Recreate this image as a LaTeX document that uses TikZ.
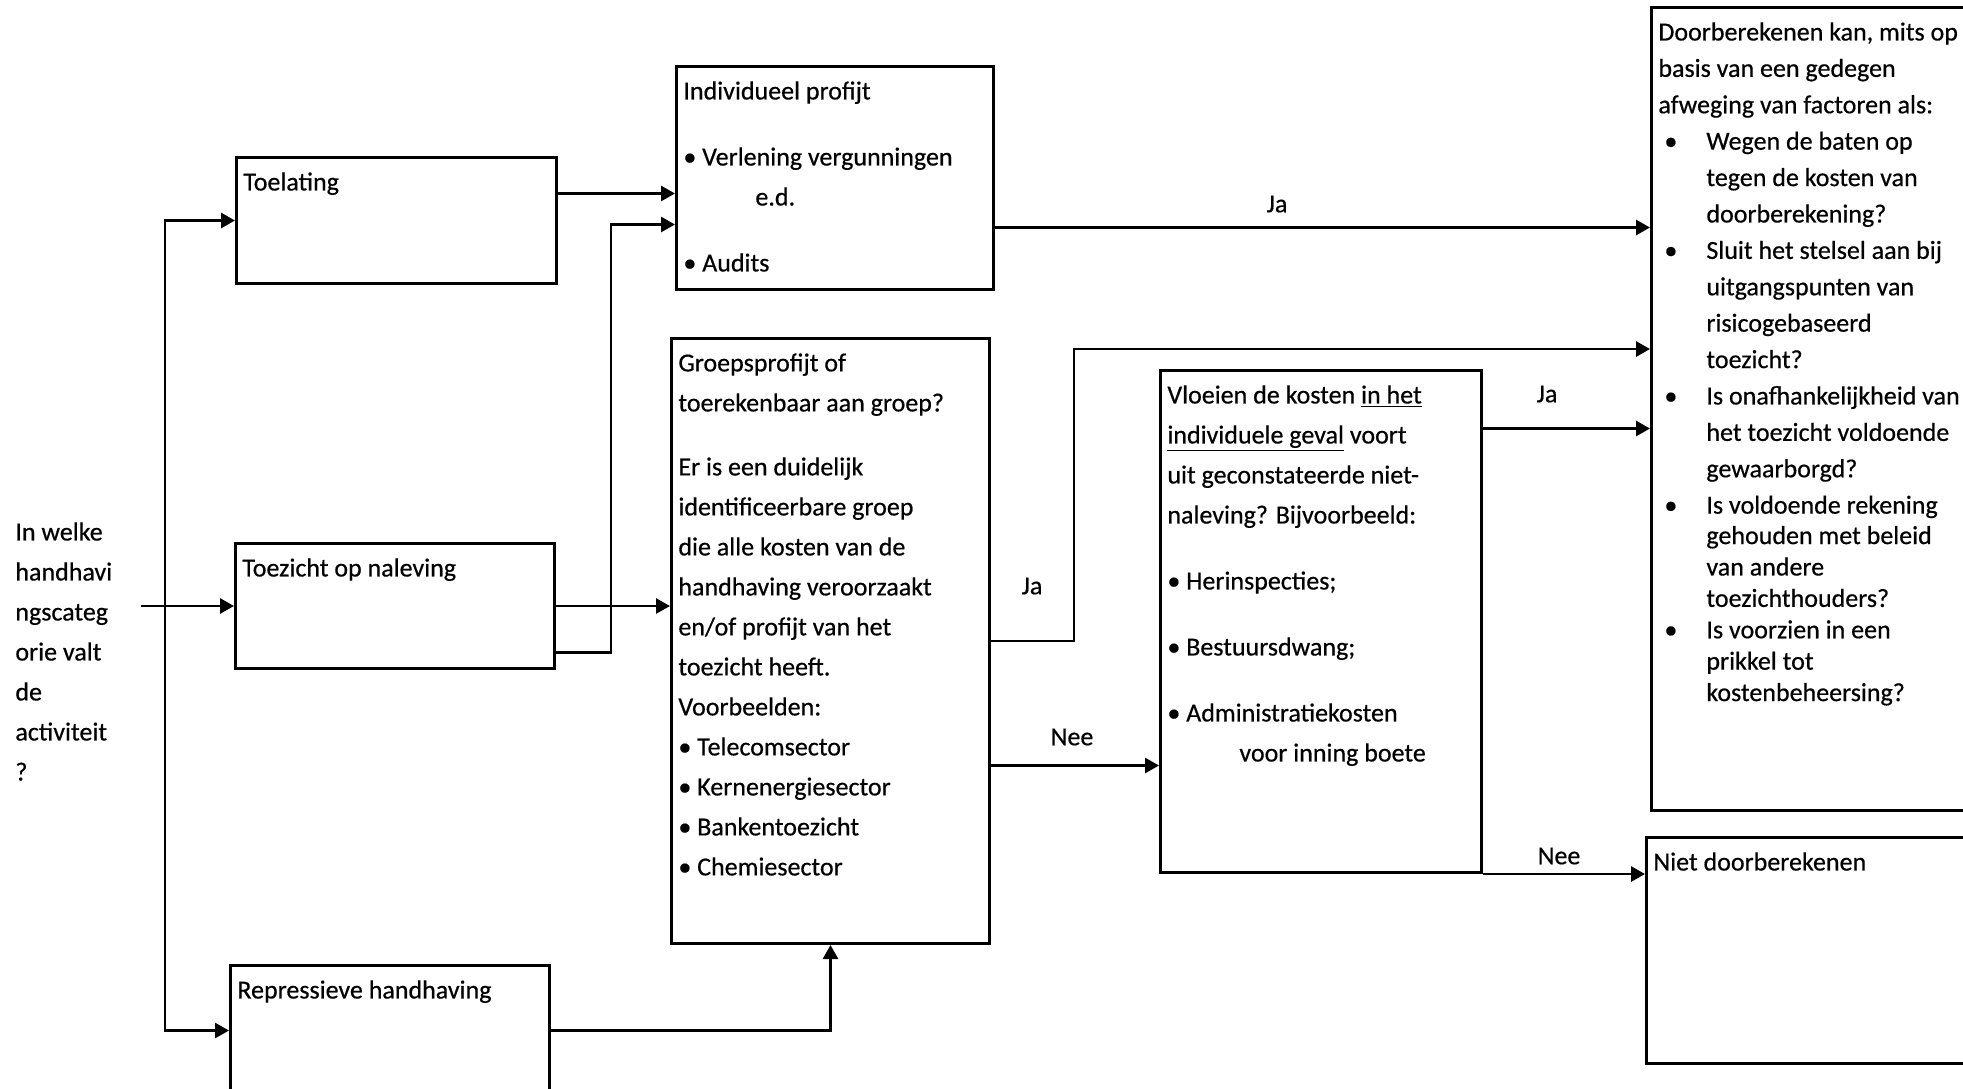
\documentclass[tikz,border=0pt]{standalone}
\usepackage{fontspec}
\setmainfont{Carlito}[FakeBold=0.5]
\usetikzlibrary{arrows.meta,positioning,calc}

\newcommand{\bul}{\textbullet\ }
\newcommand{\dbul}{\hspace*{3pt}\makebox[21pt][l]{\textbullet}}
\newcommand{\dind}{\hspace*{24pt}}

\begin{document}
\begin{tikzpicture}[x=0.5pt, y=-0.5pt,
  box/.style={draw, line width=1.5pt, anchor=north west, inner sep=0pt},
  boxtext/.style={anchor=north west, inner sep=0pt, align=left, font=\fontsize{13}{20}\selectfont},
  lbl/.style={font=\fontsize{13}{20}\selectfont, inner sep=0pt},
  arr/.style={-{Triangle[length=7pt,width=7.5pt]}, line width=1.4pt},
]
\useasboundingbox (0,0) rectangle (1963,1088);
\clip (0,0) rectangle (1963,1088);

% boxes
\node[box, minimum width=160pt, minimum height=63pt] (toel) at (235,156) {};
\node[box, minimum width=159.5pt, minimum height=62.5pt] (toez) at (234,542) {};
\node[box, minimum width=159.5pt, minimum height=65pt] (repr) at (229,964) {};
\node[box, minimum width=158.5pt, minimum height=111.5pt] (indiv) at (675,65) {};
\node[box, minimum width=159pt, minimum height=302.5pt] (groep) at (670,337) {};
\node[box, minimum width=160.5pt, minimum height=251pt] (vloei) at (1159,369) {};
\node[box, minimum width=165pt, minimum height=401.5pt] (door) at (1650,6) {};
\node[box, minimum width=165pt, minimum height=113pt] (niet) at (1645,836) {};

% texts
\node[boxtext] (intro) at (15,522) {In welke\\handhavi\\ngscateg\\orie valt\\de\\activiteit\\?};
\node[boxtext] (toel-t) at ([shift={(4pt,-8pt)}]toel.north west) {Toelating};
\node[boxtext] (toez-t) at ([shift={(4pt,-8pt)}]toez.north west) {Toezicht op naleving};
\node[boxtext] (repr-t) at ([shift={(4pt,-8pt)}]repr.north west) {Repressieve handhaving};
\node[boxtext] (indiv-t) at ([shift={(4pt,-8pt)}]indiv.north west) {Individueel profijt\\[13pt]
  \bul Verlening vergunningen\\
  \hspace*{36pt}e.d.\\[13pt]
  \bul Audits};
\node[boxtext] (groep-t) at ([shift={(4pt,-8pt)}]groep.north west) {Groepsprofijt of\\
  toerekenbaar aan groep?\\[12pt]
  Er is een duidelijk\\
  identificeerbare groep\\
  die alle kosten van de\\
  handhaving veroorzaakt\\
  en/of profijt van het\\
  toezicht heeft.\\
  Voorbeelden:\\
  \bul Telecomsector\\
  \bul Kernenergiesector\\
  \bul Bankentoezicht\\
  \bul Chemiesector};
\node[boxtext] (vloei-t) at ([shift={(4pt,-8pt)}]vloei.north west) {Vloeien de kosten \underline{in het}\\
  \underline{individuele geval} voort\\
  uit geconstateerde niet-\\
  naleving? Bijvoorbeeld:\\[13pt]
  \bul Herinspecties;\\[13pt]
  \bul Bestuursdwang;\\[13pt]
  \bul Administratiekosten\\
  \hspace*{36pt}voor inning boete};
\node[boxtext, font=\fontsize{13}{18.2}\selectfont] (door-t) at ([shift={(4pt,-8pt)}]door.north west) {Doorberekenen kan, mits op\\
  basis van een gedegen\\
  afweging van factoren als:\\
  \dbul Wegen de baten op\\
  \dind tegen de kosten van\\
  \dind doorberekening?\\
  \dbul Sluit het stelsel aan bij\\
  \dind uitgangspunten van\\
  \dind risicogebaseerd\\
  \dind toezicht?\\
  \dbul Is onafhankelijkheid van\\
  \dind het toezicht voldoende\\
  \dind gewaarborgd?\\
  \dbul Is voldoende rekening\\[-3pt]
  \dind gehouden met beleid\\[-2.5pt]
  \dind van andere\\[-2.5pt]
  \dind toezichthouders?\\[-2.5pt]
  \dbul Is voorzien in een\\[-2.5pt]
  \dind prikkel tot\\[-2.5pt]
  \dind kostenbeheersing?};
\node[boxtext] (niet-t) at ([shift={(4pt,-8pt)}]niet.north west) {Niet doorberekenen};

% connectors
\coordinate (start) at ([xshift=-46.5pt]toez.west);
\coordinate (fork) at ([xshift=-34.5pt]toez.west);
\draw[arr] (start) -- (toez.west);
\draw[arr] (fork) |- (toel.west);
\draw[arr] (fork) |- (repr.west);
\draw[arr] ([yshift=13.5pt]toel.east) -- ([yshift=13.5pt]toel.east -| indiv.west);
\draw[arr] ([yshift=-23.25pt]toez.east) -- ++(27.5pt,0) |- ([yshift=-23.25pt]indiv.west);
\draw[arr] (toez.east) -- (toez.east -| groep.west);
\draw[arr] (repr.east) -| (groep.south);
\draw[arr] ([yshift=-24.75pt]indiv.east) -- ([yshift=-24.75pt]indiv.east -| door.west);
\coordinate (jabend) at (1074,349);
\draw[arr] (groep.east) -| (jabend) -- (jabend -| door.west);
\draw[arr] ([yshift=-62.25pt]groep.east) -- ([yshift=-62.25pt]groep.east -| vloei.west);
\draw[arr] ([yshift=96.5pt]vloei.east) -- ([yshift=96.5pt]vloei.east -| door.west);
\draw[arr] (vloei.south east) -- (vloei.south east -| niet.west);

% labels
\node[lbl] (ja-indiv) at (1277,204) {Ja};
\node[lbl] (ja-groep) at (1032,586) {Ja};
\node[lbl] (nee-groep) at (1072,737) {Nee};
\node[lbl] (ja-vloei) at (1547,394) {Ja};
\node[lbl] (nee-vloei) at (1559,856) {Nee};
\end{tikzpicture}
\end{document}
